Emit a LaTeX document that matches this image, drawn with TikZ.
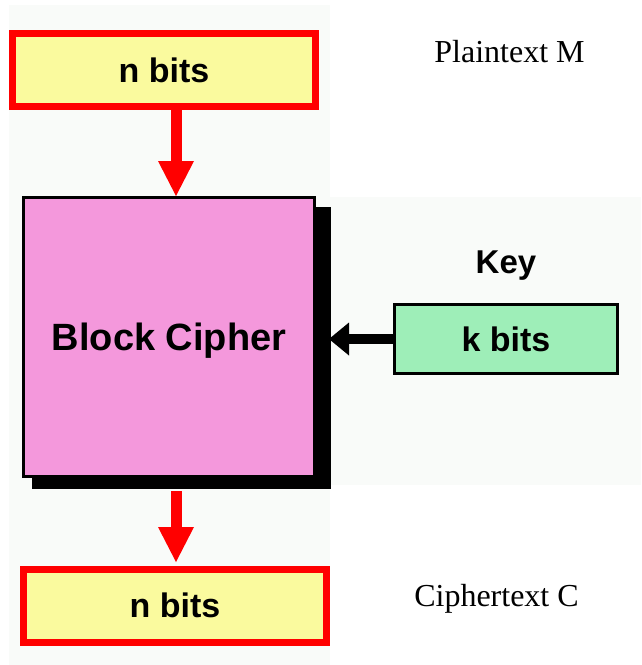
\documentclass[tikz,border=0pt]{standalone}
\usepackage{fontspec}
\setmainfont{Liberation Serif}
\setsansfont{Liberation Sans}
\usetikzlibrary{arrows.meta}

\definecolor{panel}{RGB}{249,251,249}
\definecolor{bitsyellow}{RGB}{250,250,158}
\definecolor{cipherpink}{RGB}{244,152,220}
\definecolor{keygreen}{RGB}{158,238,184}
\definecolor{flowred}{RGB}{255,0,0}

\tikzset{
  bitsbox/.style={draw=flowred, line width=7pt, fill=bitsyellow, rectangle,
    minimum width=303pt, minimum height=73pt, inner sep=0pt,
    font=\sffamily\bfseries\fontsize{34pt}{36pt}\selectfont, text depth=0pt},
  cipherbox/.style={draw=black, line width=3pt, fill=cipherpink, rectangle,
    minimum width=291pt, minimum height=279pt, inner sep=0pt,
    font=\sffamily\bfseries\fontsize{38pt}{40pt}\selectfont, text depth=0pt},
  keybox/.style={draw=black, line width=3pt, fill=keygreen, rectangle,
    minimum width=223pt, minimum height=69pt, inner sep=0pt,
    font=\sffamily\bfseries\fontsize{34pt}{36pt}\selectfont, text depth=0pt},
  sidelabel/.style={anchor=base, inner sep=0pt,
    font=\rmfamily\fontsize{32pt}{34pt}\selectfont},
  keylabel/.style={anchor=base, inner sep=0pt,
    font=\sffamily\bfseries\fontsize{33pt}{35pt}\selectfont},
  redflow/.style={draw=flowred, line width=11pt,
    -{Triangle[width=36pt,length=35pt,line width=0pt]}},
  keyflow/.style={draw=black, line width=10pt,
    -{Triangle[width=33pt,length=20pt,line width=0pt]}},
}

\begin{document}
\begin{tikzpicture}[x=1pt,y=-1pt]
  \useasboundingbox (0,0) rectangle (641,665);
  \fill[white] (0,0) rectangle (641,665);

  % faint backdrop panels
  \fill[panel] (9,5) rectangle (330,665);
  \fill[panel] (330,197) rectangle (641,485);

  % plaintext block
  \node[bitsbox] (plain) at (164,70) {n bits};
  \node[sidelabel] (plainlabel) at (509.5,62) {Plaintext M};

  % block cipher with its drop shadow
  \node[cipherbox, draw=none, fill=none] (bcpos) at (169,337) {};
  \fill[black] ([xshift=9.5pt,yshift=-10.5pt]bcpos.south west)
    rectangle ([xshift=14.5pt,yshift=-10.5pt]bcpos.north east);
  \node[cipherbox] (bc) at (169,337) {Block Cipher};

  % key block
  \node[keylabel] (keylabel) at (506,273) {Key};
  \node[keybox] (key) at (506,339) {k bits};

  % ciphertext block
  \node[bitsbox] (cipher) at (175,605.5) {n bits};
  \node[sidelabel] (cipherlabel) at (496.5,606) {Ciphertext C};

  % connectors
  \coordinate (inTop) at ([xshift=12pt]plain.south);
  \coordinate (inBc) at (inTop |- bc.north);
  \draw[redflow] (inTop) -- (inBc);

  \coordinate (outBc) at ([yshift=-1pt]inTop |- bc.south);
  \coordinate (inCipher) at ([yshift=3.5pt]inTop |- cipher.north);
  \draw[redflow] ([yshift=-12pt]outBc) -- (inCipher);

  \coordinate (keyIn) at ([xshift=13pt]bc.east |- key.west);
  \draw[keyflow] ([xshift=1.5pt]key.west) -- (keyIn);
\end{tikzpicture}
\end{document}
